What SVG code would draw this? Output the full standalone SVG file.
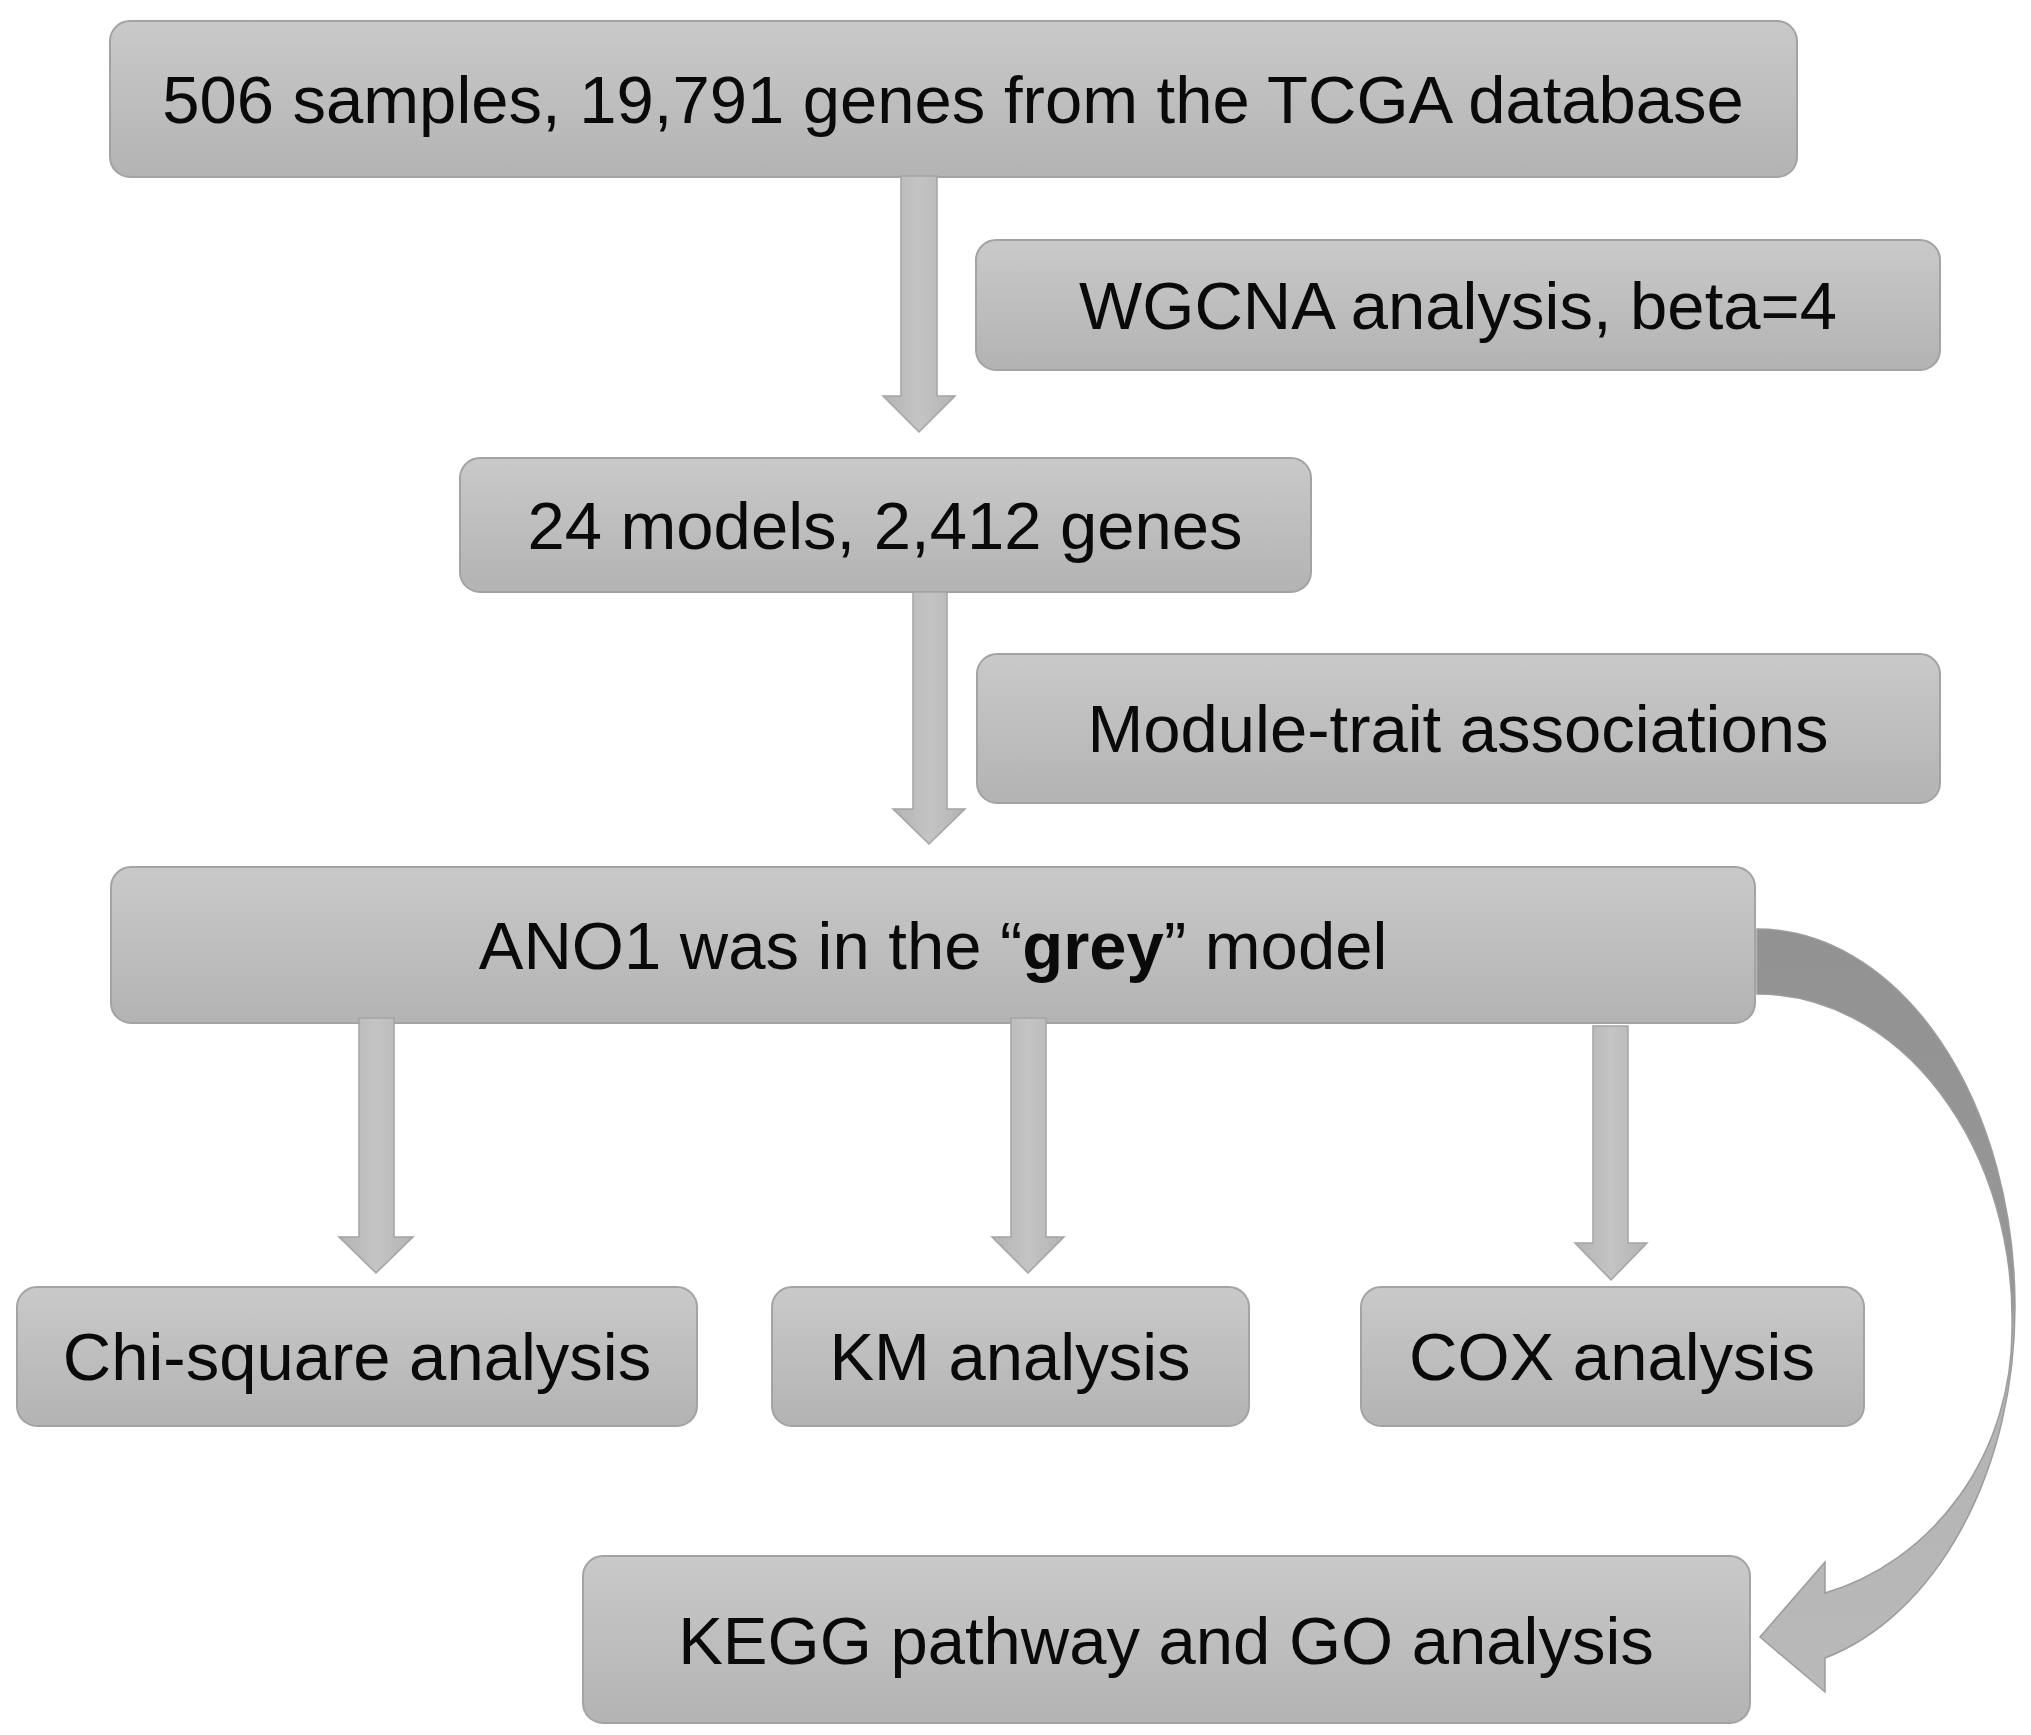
<svg xmlns="http://www.w3.org/2000/svg" width="2031" height="1735" viewBox="0 0 2031 1735">
  <defs>
    <linearGradient id="boxFill" x1="0" y1="0" x2="0" y2="1">
      <stop offset="0" stop-color="#c9c9c9"/>
      <stop offset="1" stop-color="#b3b3b3"/>
    </linearGradient>
    <linearGradient id="arrowFill" x1="0" y1="0" x2="1" y2="0">
      <stop offset="0" stop-color="#b3b3b3"/>
      <stop offset="0.5" stop-color="#c4c4c4"/>
      <stop offset="1" stop-color="#b3b3b3"/>
    </linearGradient>
    <linearGradient id="curveFill" gradientUnits="userSpaceOnUse" x1="0" y1="929" x2="0" y2="1692">
      <stop offset="0" stop-color="#929292"/>
      <stop offset="0.49" stop-color="#979797"/>
      <stop offset="0.53" stop-color="#b3b3b3"/>
      <stop offset="1" stop-color="#b9b9b9"/>
    </linearGradient>
  </defs>
  <style>
    .box { fill: url(#boxFill); stroke: #a3a3a3; stroke-width: 2; }
    .lbl { font-family: "Liberation Sans", Arial, sans-serif; font-size: 67px; fill: #0a0a0a; text-anchor: middle; }
    .arr { fill: url(#arrowFill); stroke: #a4a4a4; stroke-width: 1.5; }
  </style>
  <rect width="2031" height="1735" fill="#ffffff"/>

  <g id="node-tcga">
    <rect class="box" x="110" y="21" width="1687" height="156" rx="20"/>
    <text class="lbl" x="953" y="123">506 samples, 19,791 genes from the TCGA database</text>
  </g>
  <g id="node-wgcna">
    <rect class="box" x="976" y="240" width="964" height="130" rx="20"/>
    <text class="lbl" x="1458" y="329">WGCNA analysis, beta=4</text>
  </g>
  <g id="node-models">
    <rect class="box" x="460" y="458" width="851" height="134" rx="20"/>
    <text class="lbl" x="885" y="549">24 models, 2,412 genes</text>
  </g>
  <g id="node-trait">
    <rect class="box" x="977" y="654" width="963" height="149" rx="20"/>
    <text class="lbl" x="1458" y="752">Module-trait associations</text>
  </g>
  <g id="node-ano1">
    <rect class="box" x="111" y="867" width="1644" height="156" rx="20"/>
    <text class="lbl" x="933" y="969">ANO1 was in the “<tspan font-weight="bold">grey</tspan>” model</text>
  </g>
  <g id="node-chi">
    <rect class="box" x="17" y="1287" width="680" height="139" rx="20"/>
    <text class="lbl" x="357" y="1380">Chi-square analysis</text>
  </g>
  <g id="node-km">
    <rect class="box" x="772" y="1287" width="477" height="139" rx="20"/>
    <text class="lbl" x="1010" y="1380">KM analysis</text>
  </g>
  <g id="node-cox">
    <rect class="box" x="1361" y="1287" width="503" height="139" rx="20"/>
    <text class="lbl" x="1612" y="1380">COX analysis</text>
  </g>
  <g id="node-kegg">
    <rect class="box" x="583" y="1556" width="1167" height="167" rx="20"/>
    <text class="lbl" x="1166" y="1664">KEGG pathway and GO analysis</text>
  </g>

  <g id="connectors">
    <path class="arr" d="M901,176 L937,176 L937,396 L955,396 L919,432 L883,396 L901,396 Z"/>
    <path class="arr" d="M913,592 L947,592 L947,809 L965,809 L929,844 L893,809 L913,809 Z"/>
    <path class="arr" d="M359,1018 L394,1018 L394,1237 L413,1237 L376,1273 L339,1237 L359,1237 Z"/>
    <path class="arr" d="M1011,1018 L1046,1018 L1046,1237 L1064,1237 L1028,1273 L992,1237 L1011,1237 Z"/>
    <path class="arr" d="M1593,1026 L1628,1026 L1628,1243 L1647,1243 L1611,1280 L1575,1243 L1593,1243 Z"/>
    <path d="M1757,929 A258,378 0 0 1 2015,1307 A258,364 0 0 1 1825,1658 L1825,1692 L1760,1637 L1825,1562 L1825,1593 A255,273 0 0 0 2012,1330 A255,326 0 0 0 1757,994 Z" fill="url(#curveFill)" stroke="#9c9c9c" stroke-width="1.5"/>
  </g>
</svg>
